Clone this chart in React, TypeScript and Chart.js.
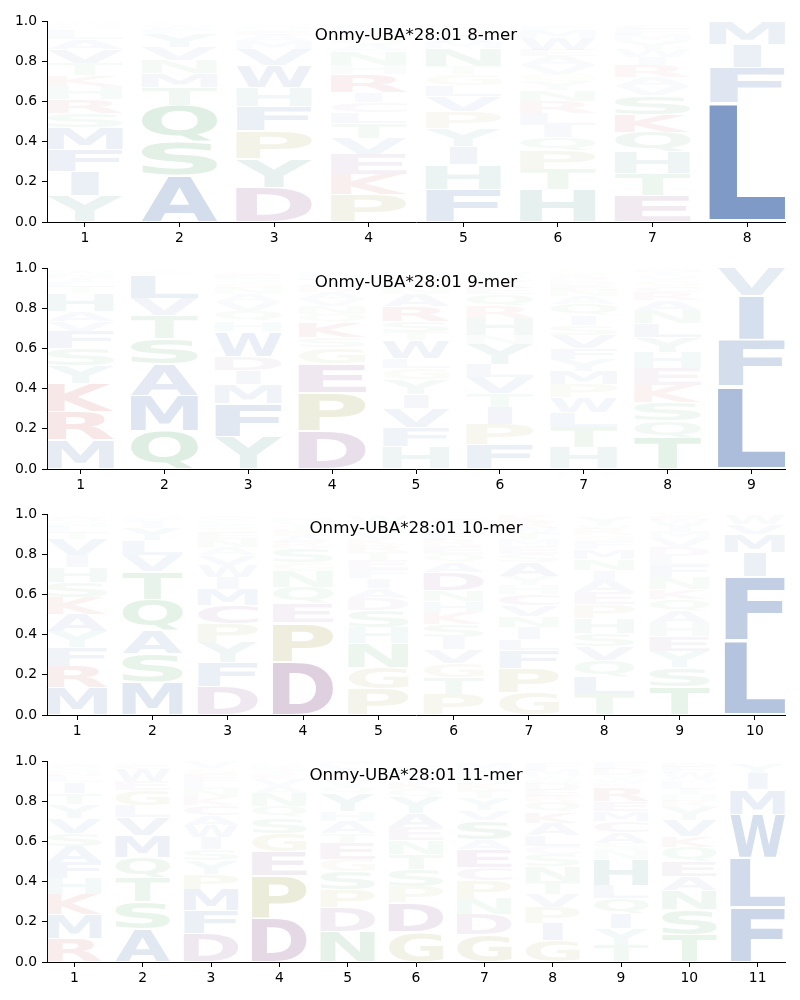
import React, { useEffect, useRef } from "react";
import { Chart, registerables } from "chart.js";
Chart.register(...registerables);

type Col = [string, number][];

const panelTitles = [
  "Onmy-UBA*28:01 8-mer",
  "Onmy-UBA*28:01 9-mer",
  "Onmy-UBA*28:01 10-mer",
  "Onmy-UBA*28:01 11-mer",
];

const yTickValues = [0, 0.2, 0.4, 0.6, 0.8, 1.0];

// letters listed bottom -> top, [residue, probability]
const mer8: Col[] = [
  [["Y", 0.13], ["I", 0.12], ["F", 0.11], ["M", 0.11], ["S", 0.07], ["R", 0.07], ["H", 0.065], ["K", 0.055], ["T", 0.06], ["V", 0.07], ["A", 0.05], ["L", 0.045], ["Q", 0.015], ["N", 0.012], ["W", 0.01], ["C", 0.008]],
  [["A", 0.23], ["S", 0.17], ["Q", 0.18], ["T", 0.09], ["M", 0.07], ["N", 0.065], ["V", 0.065], ["Y", 0.07], ["F", 0.02], ["W", 0.02], ["C", 0.01]],
  [["D", 0.17], ["Y", 0.145], ["P", 0.14], ["F", 0.12], ["H", 0.095], ["W", 0.11], ["V", 0.08], ["M", 0.04], ["A", 0.03], ["E", 0.02], ["Q", 0.02], ["C", 0.01]],
  [["P", 0.135], ["K", 0.1], ["E", 0.1], ["V", 0.08], ["T", 0.075], ["L", 0.055], ["C", 0.05], ["I", 0.05], ["R", 0.09], ["H", 0.045], ["N", 0.07], ["A", 0.03], ["Q", 0.03], ["M", 0.03], ["W", 0.02], ["F", 0.02]],
  [["F", 0.16], ["H", 0.125], ["I", 0.09], ["Y", 0.09], ["P", 0.085], ["V", 0.075], ["L", 0.055], ["G", 0.055], ["T", 0.04], ["N", 0.09], ["M", 0.03], ["W", 0.03], ["E", 0.02], ["Q", 0.02], ["C", 0.02]],
  [["H", 0.16], ["T", 0.1], ["P", 0.095], ["Q", 0.065], ["I", 0.06], ["L", 0.06], ["R", 0.06], ["N", 0.055], ["Y", 0.045], ["G", 0.035], ["V", 0.045], ["A", 0.045], ["E", 0.03], ["W", 0.06], ["M", 0.04], ["F", 0.02]],
  [["E", 0.13], ["T", 0.11], ["H", 0.11], ["Q", 0.095], ["K", 0.09], ["S", 0.095], ["V", 0.045], ["A", 0.045], ["R", 0.06], ["I", 0.04], ["W", 0.04], ["Y", 0.04], ["M", 0.03], ["F", 0.03], ["C", 0.02]],
  [["L", 0.595], ["F", 0.175], ["I", 0.115], ["M", 0.115]],
];

const mer9: Col[] = [
  [["M", 0.145], ["R", 0.14], ["K", 0.14], ["Y", 0.09], ["S", 0.085], ["F", 0.085], ["V", 0.05], ["A", 0.05], ["H", 0.09], ["T", 0.03], ["L", 0.025], ["I", 0.02], ["N", 0.02], ["W", 0.015]],
  [["Q", 0.19], ["M", 0.175], ["A", 0.155], ["S", 0.13], ["T", 0.115], ["V", 0.085], ["L", 0.115], ["F", 0.015], ["I", 0.01]],
  [["Y", 0.16], ["F", 0.165], ["M", 0.095], ["I", 0.07], ["D", 0.07], ["W", 0.125], ["H", 0.05], ["Q", 0.05], ["V", 0.045], ["A", 0.04], ["N", 0.03], ["G", 0.03], ["S", 0.02], ["E", 0.02], ["C", 0.01]],
  [["D", 0.19], ["P", 0.19], ["E", 0.145], ["G", 0.08], ["S", 0.05], ["K", 0.075], ["Q", 0.04], ["N", 0.04], ["V", 0.035], ["A", 0.035], ["R", 0.03], ["T", 0.03], ["H", 0.02], ["L", 0.02]],
  [["H", 0.11], ["F", 0.095], ["V", 0.095], ["I", 0.07], ["Y", 0.075], ["G", 0.055], ["L", 0.05], ["W", 0.09], ["T", 0.04], ["S", 0.055], ["R", 0.075], ["A", 0.06], ["N", 0.03], ["E", 0.03], ["C", 0.03], ["M", 0.02]],
  [["F", 0.12], ["P", 0.1], ["I", 0.085], ["T", 0.07], ["V", 0.08], ["L", 0.065], ["Y", 0.1], ["N", 0.045], ["H", 0.085], ["R", 0.06], ["Q", 0.06], ["E", 0.03], ["K", 0.03], ["S", 0.03], ["W", 0.02]],
  [["H", 0.105], ["T", 0.1], ["L", 0.075], ["W", 0.075], ["P", 0.065], ["M", 0.065], ["Y", 0.06], ["F", 0.055], ["V", 0.065], ["S", 0.05], ["I", 0.05], ["Q", 0.055], ["A", 0.04], ["N", 0.03], ["E", 0.02], ["D", 0.02], ["R", 0.02], ["K", 0.02], ["G", 0.02]],
  [["T", 0.155], ["Q", 0.085], ["S", 0.09], ["K", 0.085], ["E", 0.085], ["H", 0.08], ["Y", 0.075], ["L", 0.07], ["N", 0.065], ["A", 0.05], ["R", 0.04], ["C", 0.03], ["G", 0.03], ["V", 0.02], ["I", 0.02], ["M", 0.015]],
  [["L", 0.41], ["F", 0.23], ["I", 0.22], ["V", 0.14]],
];

const mer10: Col[] = [
  [["M", 0.135], ["R", 0.105], ["F", 0.095], ["Y", 0.08], ["A", 0.085], ["K", 0.085], ["S", 0.075], ["H", 0.075], ["I", 0.06], ["V", 0.08], ["T", 0.03], ["L", 0.03], ["N", 0.02], ["Q", 0.02], ["W", 0.015]],
  [["M", 0.165], ["S", 0.14], ["A", 0.115], ["Q", 0.155], ["T", 0.14], ["V", 0.08], ["L", 0.075], ["Y", 0.06], ["I", 0.03], ["F", 0.02], ["W", 0.01]],
  [["D", 0.14], ["F", 0.12], ["Y", 0.1], ["P", 0.095], ["C", 0.09], ["M", 0.08], ["I", 0.06], ["W", 0.06], ["V", 0.05], ["A", 0.04], ["N", 0.04], ["E", 0.03], ["G", 0.02], ["S", 0.02], ["L", 0.02], ["Q", 0.02]],
  [["D", 0.265], ["P", 0.195], ["E", 0.095], ["Q", 0.08], ["N", 0.08], ["G", 0.045], ["S", 0.07], ["R", 0.03], ["A", 0.03], ["K", 0.03], ["T", 0.02], ["V", 0.02], ["H", 0.02]],
  [["P", 0.13], ["G", 0.105], ["N", 0.12], ["H", 0.08], ["S", 0.085], ["D", 0.06], ["A", 0.05], ["I", 0.05], ["F", 0.045], ["E", 0.045], ["T", 0.04], ["R", 0.035], ["K", 0.03], ["V", 0.03], ["Q", 0.03], ["Y", 0.02], ["W", 0.03]],
  [["P", 0.1], ["T", 0.085], ["G", 0.07], ["V", 0.07], ["I", 0.06], ["S", 0.065], ["K", 0.06], ["H", 0.055], ["N", 0.055], ["D", 0.09], ["A", 0.05], ["Q", 0.04], ["E", 0.04], ["R", 0.03], ["F", 0.03], ["L", 0.03], ["Y", 0.02], ["C", 0.03]],
  [["G", 0.11], ["P", 0.12], ["F", 0.09], ["L", 0.055], ["I", 0.06], ["N", 0.055], ["V", 0.055], ["C", 0.055], ["H", 0.045], ["Y", 0.045], ["A", 0.07], ["S", 0.04], ["E", 0.04], ["M", 0.03], ["T", 0.03], ["W", 0.03], ["R", 0.03], ["K", 0.03]],
  [["T", 0.1], ["L", 0.09], ["Q", 0.08], ["V", 0.07], ["S", 0.065], ["H", 0.075], ["P", 0.07], ["E", 0.06], ["A", 0.06], ["I", 0.05], ["N", 0.055], ["M", 0.05], ["F", 0.04], ["G", 0.03], ["R", 0.03], ["W", 0.02], ["Y", 0.04]],
  [["T", 0.14], ["S", 0.095], ["Y", 0.08], ["E", 0.075], ["H", 0.065], ["A", 0.06], ["Q", 0.06], ["K", 0.05], ["N", 0.06], ["F", 0.06], ["L", 0.045], ["D", 0.045], ["V", 0.045], ["M", 0.03], ["I", 0.03], ["W", 0.03], ["R", 0.02], ["G", 0.02]],
  [["L", 0.37], ["F", 0.32], ["I", 0.12], ["M", 0.09], ["V", 0.05], ["W", 0.045]],
];

const mer11: Col[] = [
  [["R", 0.115], ["M", 0.12], ["K", 0.1], ["H", 0.08], ["F", 0.08], ["A", 0.08], ["S", 0.065], ["V", 0.075], ["Y", 0.07], ["T", 0.055], ["I", 0.055], ["L", 0.03], ["N", 0.025], ["Q", 0.02], ["W", 0.015]],
  [["A", 0.165], ["S", 0.135], ["T", 0.12], ["Q", 0.1], ["M", 0.11], ["V", 0.09], ["L", 0.06], ["G", 0.075], ["E", 0.045], ["W", 0.06], ["C", 0.02], ["F", 0.01]],
  [["D", 0.14], ["F", 0.115], ["M", 0.105], ["P", 0.075], ["Y", 0.07], ["S", 0.055], ["I", 0.06], ["W", 0.06], ["A", 0.05], ["C", 0.05], ["K", 0.04], ["N", 0.04], ["L", 0.04], ["E", 0.035], ["G", 0.03], ["V", 0.03]],
  [["D", 0.22], ["P", 0.21], ["E", 0.12], ["G", 0.09], ["S", 0.08], ["Q", 0.055], ["N", 0.065], ["A", 0.035], ["V", 0.035], ["K", 0.025], ["T", 0.02], ["R", 0.02], ["H", 0.015]],
  [["N", 0.15], ["D", 0.12], ["P", 0.09], ["S", 0.09], ["G", 0.06], ["E", 0.08], ["T", 0.05], ["A", 0.06], ["H", 0.05], ["Y", 0.09], ["Q", 0.03], ["V", 0.03], ["K", 0.03], ["I", 0.03], ["L", 0.02], ["M", 0.02]],
  [["G", 0.15], ["D", 0.145], ["P", 0.08], ["S", 0.085], ["T", 0.075], ["N", 0.07], ["E", 0.065], ["A", 0.07], ["Y", 0.08], ["Q", 0.04], ["K", 0.035], ["V", 0.03], ["H", 0.03], ["C", 0.02]],
  [["G", 0.135], ["D", 0.1], ["N", 0.08], ["P", 0.09], ["C", 0.065], ["E", 0.09], ["A", 0.05], ["S", 0.095], ["V", 0.05], ["Y", 0.06], ["T", 0.04], ["K", 0.03], ["H", 0.03], ["L", 0.02], ["F", 0.02], ["M", 0.03]],
  [["G", 0.105], ["I", 0.085], ["P", 0.08], ["V", 0.065], ["T", 0.065], ["N", 0.075], ["S", 0.06], ["C", 0.04], ["L", 0.055], ["A", 0.06], ["K", 0.055], ["Q", 0.05], ["R", 0.03], ["E", 0.03], ["D", 0.03], ["H", 0.02], ["W", 0.02], ["M", 0.03], ["F", 0.03]],
  [["T", 0.085], ["Y", 0.08], ["I", 0.075], ["Q", 0.075], ["L", 0.065], ["H", 0.13], ["N", 0.045], ["S", 0.035], ["A", 0.055], ["C", 0.055], ["M", 0.05], ["E", 0.05], ["R", 0.07], ["K", 0.02], ["W", 0.02], ["V", 0.02], ["D", 0.03], ["F", 0.03]],
  [["T", 0.135], ["S", 0.125], ["N", 0.095], ["A", 0.07], ["E", 0.075], ["Q", 0.07], ["K", 0.055], ["V", 0.08], ["Y", 0.065], ["R", 0.03], ["H", 0.03], ["I", 0.03], ["L", 0.03], ["M", 0.02], ["W", 0.03], ["F", 0.03], ["D", 0.02]],
  [["F", 0.27], ["L", 0.245], ["W", 0.22], ["M", 0.125], ["I", 0.08], ["Y", 0.05]],
];

const panelColumns = [mer8, mer9, mer10, mer11];

const letterColors: Record<string, string> = {
  A: "#4c72b0", V: "#4c72b0", L: "#4c72b0", I: "#4c72b0", M: "#4c72b0", F: "#4c72b0", W: "#4c72b0",
  S: "#55a868", T: "#55a868", Q: "#55a868", N: "#55a868",
  D: "#8e5a92", E: "#8e5a92", C: "#8e5a92",
  K: "#c44e52", R: "#c44e52",
  H: "#5a9e98", Y: "#5a9e98",
  P: "#a8a65a", G: "#a8a65a",
};

const logoPlugin = {
  id: "logo",
  beforeDatasetsDraw(chart: any, _args: any, opts: any) {
    const { ctx, chartArea, scales } = chart;
    const x = scales.x;
    const y = scales.y;
    const cols: Col[] = opts.columns;
    ctx.save();
    ctx.font = "bold 200px 'DejaVu Sans'";
    ctx.textAlign = "left";
    ctx.textBaseline = "alphabetic";
    const mE = ctx.measureText("E");
    const eW = mE.actualBoundingBoxLeft + mE.actualBoundingBoxRight;
    cols.forEach((col, i) => {
      const pos = i + 1;
      const xl = x.getPixelForValue(pos - 0.4);
      const xr = x.getPixelForValue(pos + 0.4);
      const W = xr - xl;
      let base = 0;
      col.forEach(([ch, h]) => {
        const y0 = base + h * 0.025;
        const y1 = base + h - h * 0.025;
        base += h;
        const py0 = y.getPixelForValue(y0);
        const py1 = y.getPixelForValue(y1);
        const H = py0 - py1;
        const m = ctx.measureText(ch);
        const bw = m.actualBoundingBoxLeft + m.actualBoundingBoxRight;
        const bh = m.actualBoundingBoxAscent + m.actualBoundingBoxDescent;
        const sx = Math.min(W / bw, W / eW);
        const dw = bw * sx;
        const sy = H / bh;
        ctx.save();
        ctx.globalAlpha = Math.min(1, 1.3 * Math.pow(h, 1.15));
        ctx.fillStyle = letterColors[ch] || "#888";
        ctx.translate(xl + (W - dw) / 2, py1);
        ctx.scale(sx, sy);
        ctx.fillText(ch, m.actualBoundingBoxLeft, m.actualBoundingBoxAscent);
        ctx.restore();
      });
    });
    ctx.globalAlpha = 1;
    ctx.fillStyle = "#000";
    ctx.font = "16.7px 'DejaVu Sans'";
    ctx.textAlign = "center";
    ctx.textBaseline = "middle";
    ctx.fillText(opts.title, (chartArea.left + chartArea.right) / 2, chartArea.top + 15);
    ctx.restore();
  },
};

function LogoPanel({ columns, title, top }: { columns: Col[]; title: string; top: number }) {
  const ref = useRef<HTMLCanvasElement>(null);
  useEffect(() => {
    const n = columns.length;
    const tickFont = { family: "'DejaVu Sans'", size: 13.9 };
    const chart = new Chart(ref.current!, {
      type: "scatter",
      data: { datasets: [] },
      plugins: [logoPlugin as any],
      options: {
        responsive: false,
        animation: false,
        devicePixelRatio: 1,
        layout: { padding: { top: 21, right: 15, left: 0, bottom: 0 } },
        plugins: {
          legend: { display: false },
          tooltip: { enabled: false },
          logo: { columns, title },
        } as any,
        scales: {
          x: {
            type: "linear",
            min: 0.6,
            max: n + 0.4,
            afterBuildTicks: (s: any) => {
              s.ticks = columns.map((_c, i) => ({ value: i + 1 }));
            },
            afterFit: (s: any) => {
              s.height = 25;
            },
            grid: { display: true, drawOnChartArea: false, drawTicks: true, tickLength: 5, color: "#000", lineWidth: 1 },
            border: { display: true, color: "#000", width: 1 },
            ticks: { color: "#000", font: tickFont, padding: 3, maxRotation: 0, autoSkip: false, callback: (v: any) => String(v) },
          },
          y: {
            type: "linear",
            min: 0,
            max: 1,
            afterBuildTicks: (s: any) => {
              s.ticks = yTickValues.map((v) => ({ value: v }));
            },
            afterFit: (s: any) => {
              s.width = 47;
            },
            grid: { display: true, drawOnChartArea: false, drawTicks: true, tickLength: 5, color: "#000", lineWidth: 1 },
            border: { display: true, color: "#000", width: 1 },
            ticks: { color: "#000", font: tickFont, padding: 5, callback: (v: any) => Number(v).toFixed(1) },
          },
        },
      },
    });
    return () => chart.destroy();
  }, []);
  return (
    <canvas
      ref={ref}
      width={800}
      height={247}
      style={{ position: "absolute", left: 0, top, width: 800, height: 247 }}
    />
  );
}

const panelTops = [0, 247, 493, 740];

export default function App() {
  return (
    <div style={{ position: "absolute", left: 0, top: 0, width: 800, height: 1000, background: "#fff" }}>
      {panelColumns.map((cols, i) => (
        <LogoPanel key={i} columns={cols} title={panelTitles[i]} top={panelTops[i]} />
      ))}
    </div>
  );
}
